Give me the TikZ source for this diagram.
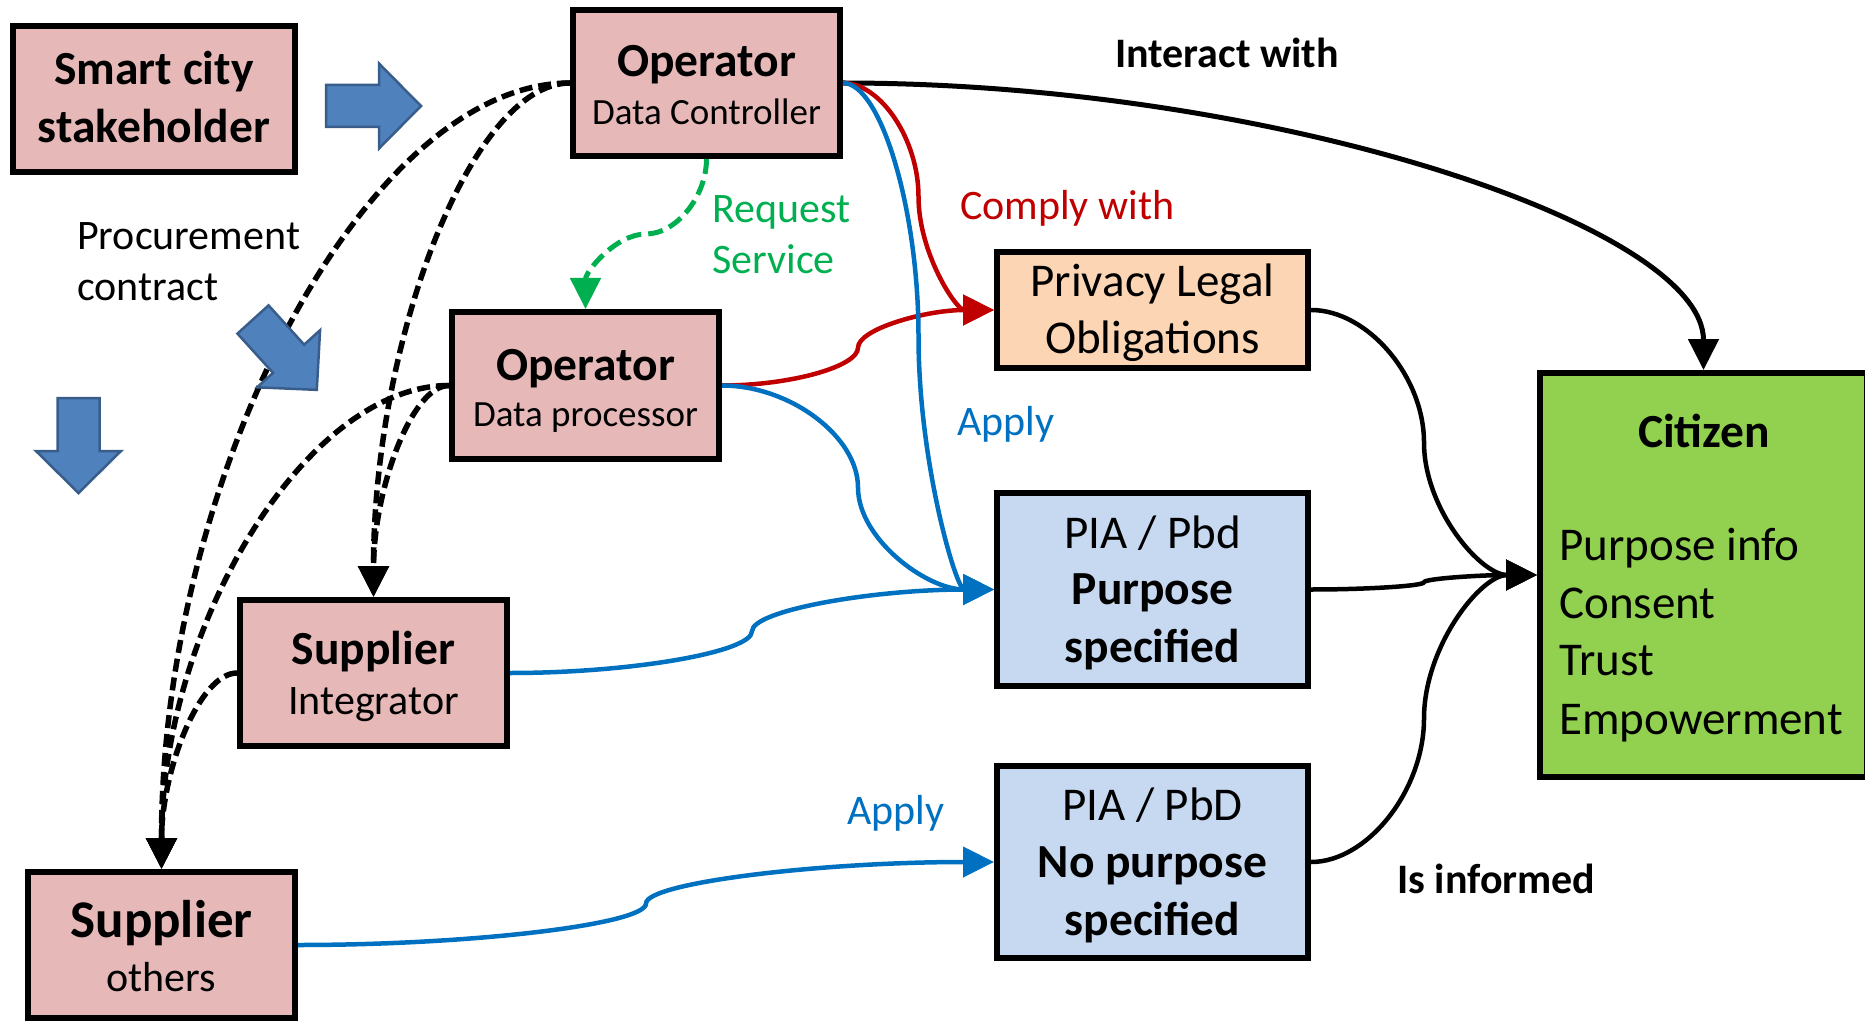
\documentclass[tikz,border=0pt]{standalone}
\usepackage{fontspec}
\setmainfont{Carlito}
\usetikzlibrary{arrows.meta,calc}

\definecolor{boxpink}{HTML}{E6B9B8}
\definecolor{boxpeach}{HTML}{FCD5B5}
\definecolor{boxblue}{HTML}{C6D9F1}
\definecolor{boxgreen}{HTML}{92D050}
\definecolor{arrowfill}{HTML}{4F81BD}
\definecolor{arrowedge}{HTML}{385D8A}
\definecolor{lineblue}{HTML}{0070C0}
\definecolor{linered}{HTML}{C00000}
\definecolor{linegreen}{HTML}{00B050}

\tikzset{
  box/.style={draw=black, line width=6pt, rectangle, inner sep=0pt},
  txt/.style={inner sep=0pt, anchor=base},
  ltxt/.style={inner sep=0pt, anchor=base west},
  hbig/.style={font=\fontsize{47.5}{57}\selectfont\bfseries},
  hhuge/.style={font=\fontsize{53}{62}\selectfont\bfseries},
  hmed/.style={font=\fontsize{47}{57}\selectfont},
  hsub/.style={font=\fontsize{37}{44}\selectfont},
  hsmall/.style={font=\fontsize{42}{50}\selectfont},
  headtip/.style={-{Triangle[length=31pt,width=30pt]}},
  % curve leaving horizontally, arriving vertically
  hvcurve/.style={to path={let \p1=(\tikztostart), \p2=(\tikztotarget) in
      .. controls ({0.5*\x1+0.5*\x2},\y1) and (\x2,{0.5*\y1+0.5*\y2}) .. (\tikztotarget)}},
  % S-curve with horizontal ends
  hscurve/.style={to path={let \p1=(\tikztostart), \p2=(\tikztotarget) in
      .. controls ({0.75*\x1+0.25*\x2},\y1) and ({0.5*\x1+0.5*\x2},{0.75*\y1+0.25*\y2})
      .. ({0.5*\x1+0.5*\x2},{0.5*\y1+0.5*\y2})
      .. controls ({0.5*\x1+0.5*\x2},{0.25*\y1+0.75*\y2}) and ({0.25*\x1+0.75*\x2},\y2)
      .. (\tikztotarget)}},
  % S-curve with vertical ends
  vscurve/.style={to path={let \p1=(\tikztostart), \p2=(\tikztotarget) in
      .. controls (\x1,{0.75*\y1+0.25*\y2}) and ({0.75*\x1+0.25*\x2},{0.5*\y1+0.5*\y2})
      .. ({0.5*\x1+0.5*\x2},{0.5*\y1+0.5*\y2})
      .. controls ({0.25*\x1+0.75*\x2},{0.5*\y1+0.5*\y2}) and (\x2,{0.25*\y1+0.75*\y2})
      .. (\tikztotarget)}},
  procure/.style={black, line width=5.5pt, dash pattern=on 13pt off 6pt, headtip},
  redlink/.style={linered, line width=4.5pt, headtip},
  bluelink/.style={lineblue, line width=4.5pt, headtip},
  blacklink/.style={black, line width=4.5pt, headtip},
  fatarrow/.pic={\draw[fill=arrowfill, draw=arrowedge, line width=2.5pt, line join=miter]
      (0,-21) -- (53,-21) -- (53,-42.5) -- (95,0) -- (53,42.5) -- (53,21) -- (0,21) -- cycle;},
}

\begin{document}
\begin{tikzpicture}[x=1pt, y=-1pt]
\useasboundingbox (0,0) rectangle (1865,1024);
\clip (0,0) rectangle (1865,1024);

% ---- boxes ----
\node[box, fill=boxpink, minimum width=282pt, minimum height=146pt] (sc) at (154,99) {};
\node[box, fill=boxpink, minimum width=267pt, minimum height=146pt] (dc) at (706.5,83) {};
\node[box, fill=boxpink, minimum width=267pt, minimum height=147pt] (dp) at (585.5,385.5) {};
\node[box, fill=boxpink, minimum width=267pt, minimum height=146pt] (si) at (373.5,673) {};
\node[box, fill=boxpink, minimum width=267pt, minimum height=146pt] (so) at (161.5,945) {};
\node[box, fill=boxpeach, minimum width=311pt, minimum height=116pt] (pl) at (1152.5,310) {};
\node[box, fill=boxblue, minimum width=311pt, minimum height=193pt] (ps) at (1152.5,589.5) {};
\node[box, fill=boxblue, minimum width=311pt, minimum height=192pt] (np) at (1152.5,862) {};
\node[box, fill=boxgreen, minimum width=327pt, minimum height=404pt] (ct) at (1703.5,575) {};

% ---- box texts ----
\node[txt, hbig] (sc-a) at (154,85) {Smart city};
\node[txt, hbig] (sc-b) at (154,143) {stakeholder};
\node[txt, hbig] (dc-a) at (706.5,77) {Operator};
\node[txt, hsub] (dc-b) at (706.5,125) {Data Controller};
\node[txt, hbig] (dp-a) at (585.5,380) {Operator};
\node[txt, hsub] (dp-b) at (585.5,426) {Data processor};
\node[txt, hbig] (si-a) at (373.5,664) {Supplier};
\node[txt, hsmall] (si-b) at (373.5,714) {Integrator};
\node[txt, hhuge] (so-a) at (161.5,937) {Supplier};
\node[txt, hsmall] (so-b) at (161.5,991) {others};
\node[txt, hmed] (pl-a) at (1152.5,296) {Privacy Legal};
\node[txt, hmed] (pl-b) at (1152.5,353) {Obligations};
\node[txt, hmed] (ps-a) at (1152.5,548) {PIA / Pbd};
\node[txt, hbig] (ps-b) at (1152.5,604) {Purpose};
\node[txt, hbig] (ps-c) at (1152.5,662) {specified};
\node[txt, hmed] (np-a) at (1152.5,820) {PIA / PbD};
\node[txt, hbig] (np-b) at (1152.5,877) {No purpose};
\node[txt, hbig] (np-c) at (1152.5,935) {specified};
\node[txt, hbig] (ct-a) at (1704,447) {Citizen};
\node[ltxt, hmed] (ct-b) at (1559,560) {Purpose info};
\node[ltxt, hmed] (ct-c) at (1559,618) {Consent};
\node[ltxt, hmed] (ct-d) at (1559,675) {Trust};
\node[ltxt, hmed] (ct-e) at (1559,734) {Empowerment};

% ---- free labels ----
\node[ltxt, hsmall] (lb-proc1) at (77,250) {Procurement};
\node[ltxt, hsmall] (lb-proc2) at (77,300) {contract};
\node[ltxt, hsmall, text=linegreen] (lb-req1) at (712,223) {Request};
\node[ltxt, hsmall, text=linegreen] (lb-req2) at (712,273) {Service};
\node[ltxt, font=\fontsize{42}{50}\selectfont\bfseries] (lb-inter) at (1115,68) {Interact with};
\node[ltxt, hsmall, text=linered] (lb-comply) at (960,220) {Comply with};
\node[ltxt, hsmall, text=lineblue] (lb-apply1) at (957,435) {Apply};
\node[ltxt, hsmall, text=lineblue] (lb-apply2) at (847,824) {Apply};
\node[ltxt, font=\fontsize{42}{50}\selectfont\bfseries] (lb-inf) at (1397,893) {Is informed};

% ---- procurement contracts (dashed) ----
\draw[procure] (dc.west) to[hvcurve] (so.north);
\draw[procure] (dc.west) to[hvcurve] (si.north);
\draw[procure] (dp.west) to[hvcurve] (so.north);
\draw[procure] (dp.west) to[hvcurve] (si.north);
\draw[procure] (si.west) to[hvcurve] (so.north);

% ---- block arrows ----
\path (326,106) pic {fatarrow};
\path (78.5,398) pic[rotate=-90] {fatarrow};
\path (253,319.5) pic[rotate=-47.8] {fatarrow};

% ---- operator links ----
\draw[black, line width=5pt, headtip] (dc.east) to[hvcurve] (ct.north);
\draw[redlink] (dc.east) to[hscurve] (pl.west);
\draw[redlink] (dp.east) to[hscurve] (pl.west);
\draw[bluelink] (dc.east) to[hscurve] (ps.west);
\draw[bluelink] (dp.east) to[hscurve] (ps.west);
\draw[bluelink] (si.east) to[hscurve] (ps.west);
\draw[bluelink] (so.east) to[hscurve] (np.west);
\draw[linegreen, line width=5pt, dash pattern=on 15pt off 7pt, headtip] (dc.south) to[vscurve] (dp.north);

% ---- citizen is informed ----
\draw[blacklink] (pl.east) to[hscurve] (ct.west);
\draw[blacklink] (ps.east) to[hscurve] (ct.west);
\draw[blacklink] (np.east) to[hscurve] (ct.west);
\end{tikzpicture}
\end{document}
